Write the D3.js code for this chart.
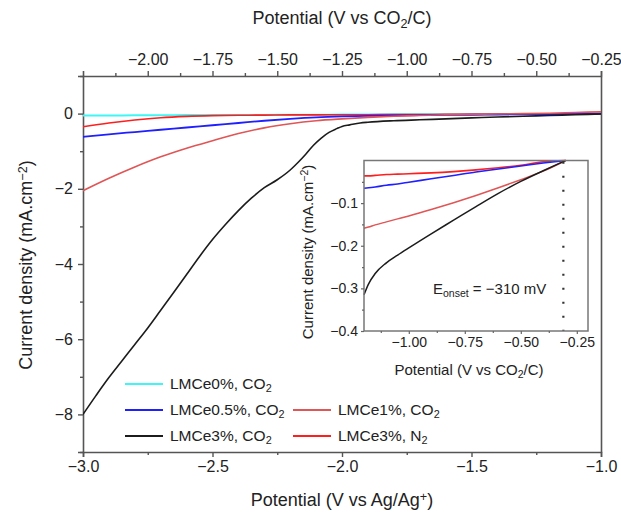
<!DOCTYPE html>
<html>
<head>
<meta charset="utf-8">
<script src="https://cdn.jsdelivr.net/npm/d3@7"></script>
<style>
  html, body { margin: 0; padding: 0; background: #fff; }
  svg { display: block; font-family: "Liberation Sans", Arial, Helvetica, sans-serif; }
  text { fill: #222; }
</style>
</head>
<body>
<svg id="chart" width="621" height="512"></svg>
<script>
// ---- Main panel: linear sweep voltammetry (V vs Ag/Ag+) ----
const mainPotential = [-3.0,-2.9,-2.8,-2.7,-2.6,-2.5,-2.4,-2.3,-2.2,-2.1,-2.0,-1.9,-1.8,-1.7,-1.6,-1.5,-1.4,-1.3,-1.2,-1.1,-1.0];
const lmce0CO2   = [-0.05,-0.05,-0.045,-0.045,-0.04,-0.04,-0.035,-0.035,-0.03,-0.03,-0.025,-0.025,-0.02,-0.02,-0.02,-0.015,-0.015,-0.01,-0.01,-0.01,-0.005];
const lmce05CO2  = [-0.62,-0.55,-0.49,-0.43,-0.37,-0.31,-0.25,-0.19,-0.14,-0.10,-0.075,-0.06,-0.05,-0.04,-0.035,-0.03,-0.025,-0.02,-0.015,-0.01,0];
const lmce1CO2   = [-2.05,-1.72,-1.42,-1.15,-0.92,-0.72,-0.53,-0.38,-0.27,-0.19,-0.14,-0.10,-0.07,-0.05,-0.03,-0.02,-0.01,0,0.01,0.03,0.05];
const lmce3N2    = [-0.35,-0.25,-0.17,-0.11,-0.075,-0.055,-0.045,-0.04,-0.035,-0.035,-0.03,-0.03,-0.025,-0.025,-0.02,-0.02,-0.015,-0.01,-0.01,-0.005,0];

const lmce3Potential = [-3.0,-2.95,-2.9,-2.85,-2.8,-2.75,-2.7,-2.65,-2.6,-2.55,-2.5,-2.45,-2.4,-2.35,-2.3,-2.25,-2.2,-2.17,-2.14,-2.11,-2.08,-2.05,-2.02,-2.0,-1.97,-1.93,-1.9,-1.8,-1.7,-1.6,-1.5,-1.4,-1.3,-1.2,-1.1,-1.0];
const lmce3CO2       = [-8.0,-7.5,-7.02,-6.58,-6.14,-5.7,-5.23,-4.76,-4.28,-3.8,-3.35,-2.95,-2.58,-2.25,-1.97,-1.76,-1.5,-1.3,-1.08,-0.84,-0.65,-0.5,-0.4,-0.34,-0.3,-0.25,-0.23,-0.19,-0.165,-0.14,-0.115,-0.09,-0.07,-0.05,-0.03,-0.01];

// ---- Inset: onset region (V vs CO2/C) ----
const insetPotential = [-1.2,-1.18,-1.15,-1.1,-1.05,-1.0,-0.9,-0.8,-0.7,-0.6,-0.5,-0.4,-0.3];
const insetLmce05CO2 = [-0.065,-0.064,-0.062,-0.058,-0.055,-0.051,-0.043,-0.035,-0.027,-0.02,-0.013,-0.006,0];
const insetLmce1CO2  = [-0.159,-0.156,-0.151,-0.144,-0.137,-0.13,-0.115,-0.099,-0.082,-0.064,-0.045,-0.025,0];
const insetLmce3CO2  = [-0.315,-0.29,-0.265,-0.24,-0.222,-0.205,-0.172,-0.14,-0.108,-0.077,-0.049,-0.024,0];
const insetLmce3N2   = [-0.036,-0.036,-0.035,-0.033,-0.032,-0.031,-0.029,-0.026,-0.022,-0.017,-0.011,-0.003,0];
const onsetPotential = -0.31; // V vs CO2/C

// ---- Axis ticks ----
const bottomTicks = [-3.0,-2.5,-2.0,-1.5,-1.0];
const bottomMinor = [-2.75,-2.25,-1.75,-1.25];
const topTicks = [-2.00,-1.75,-1.50,-1.25,-1.00,-0.75,-0.50,-0.25];
const topMinor = [-2.125,-1.875,-1.625,-1.375,-1.125,-0.875,-0.625,-0.375];
const leftTicks = [0,-2,-4,-6,-8];
const leftMinor = [1,-1,-3,-5,-7,-9];
const insetXTicks = [-1.00,-0.75,-0.50,-0.25];
const insetXMinor = [-1.125,-0.875,-0.625,-0.375];
const insetYTicks = [-0.1,-0.2,-0.3,-0.4];
const insetYMinor = [-0.05,-0.15,-0.25,-0.35];

const seriesNames = ["LMCe0%, CO", "LMCe0.5%, CO", "LMCe1%, CO", "LMCe3%, CO", "LMCe3%, N"];
const seriesColors = ["#3ff6f6", "#1f1fff", "#e05555", "#1c1c1c", "#ff1e1e"];

const svg = d3.select("#chart");
const axisColor = "#555";
const minus = s => s.replace("-", "\u2212");

// main scales
const M = { left: 83, right: 601, top: 76, bottom: 452 };
const x = d3.scaleLinear().domain([-3.0, -1.0]).range([M.left, M.right]);
const xTop = d3.scaleLinear().domain([-2.25, -0.25]).range([M.left, M.right]);
const y = d3.scaleLinear().domain([-9, 1]).range([M.bottom, M.top]);

function styleAxis(g) {
  g.select(".domain").attr("stroke", axisColor).attr("stroke-width", 1.6);
  g.selectAll(".tick line").attr("stroke", axisColor).attr("stroke-width", 1.4);
  g.selectAll(".tick text").attr("fill", "#222");
}

// minor ticks (no labels)
function minorAxis(gen, vals, size) {
  return gen.tickValues(vals).tickSize(size).tickFormat("");
}

const fmt1 = d => minus(d3.format(".1f")(d));
const fmt2 = d => minus(d3.format(".2f")(d));
const fmt0 = d => minus(d3.format("d")(d));
const tickFont = g => g.selectAll("text").attr("font-size", 16).attr("font-family", "Liberation Sans");

// bottom axis
svg.append("g").attr("transform", `translate(0,${M.bottom})`)
  .call(d3.axisBottom(x).tickValues(bottomTicks).tickSize(5).tickPadding(4).tickFormat(fmt1))
  .call(styleAxis).call(tickFont);
svg.append("g").attr("transform", `translate(0,${M.bottom})`)
  .call(minorAxis(d3.axisBottom(x), bottomMinor, 3)).call(styleAxis)
  .call(g => g.select(".domain").remove());

// top axis
svg.append("g").attr("transform", `translate(0,${M.top})`)
  .call(d3.axisTop(xTop).tickValues(topTicks).tickSize(5).tickPadding(6).tickFormat(fmt2))
  .call(styleAxis).call(tickFont);
svg.append("g").attr("transform", `translate(0,${M.top})`)
  .call(minorAxis(d3.axisTop(xTop), topMinor, 3)).call(styleAxis)
  .call(g => g.select(".domain").remove());

// left axis
svg.append("g").attr("transform", `translate(${M.left},0)`)
  .call(d3.axisLeft(y).tickValues(leftTicks).tickSize(5).tickPadding(5).tickFormat(fmt0))
  .call(styleAxis).call(tickFont);
svg.append("g").attr("transform", `translate(${M.left},0)`)
  .call(minorAxis(d3.axisLeft(y), leftMinor, 3)).call(styleAxis)
  .call(g => g.select(".domain").remove());

// right frame
svg.append("g").attr("transform", `translate(${M.right},0)`)
  .call(d3.axisRight(y).tickValues([]).tickSizeOuter(0)).call(styleAxis);

// text with sub/superscripts
function labelWithScript(sel, parts) {
  parts.forEach(p => {
    const t = sel.append("tspan").text(p.t);
    if (p.sub) t.attr("baseline-shift", "-28%").attr("font-size", "70%");
    if (p.sup) t.attr("baseline-shift", "42%").attr("font-size", "70%");
  });
  return sel;
}

labelWithScript(svg.append("text").attr("x", 342).attr("y", 24).attr("text-anchor", "middle").attr("font-size", 18),
  [{t: "Potential (V vs CO"}, {t: "2", sub: true}, {t: "/C)"}]);
labelWithScript(svg.append("text").attr("x", 342).attr("y", 506).attr("text-anchor", "middle").attr("font-size", 18),
  [{t: "Potential (V vs Ag/Ag"}, {t: "+", sup: true}, {t: ")"}]);
labelWithScript(svg.append("text").attr("transform", "translate(32,265) rotate(-90)").attr("text-anchor", "middle").attr("font-size", 18),
  [{t: "Current density (mA.cm"}, {t: "\u22122", sup: true}, {t: ")"}]);

// curves
svg.append("clipPath").attr("id", "clipMain").append("rect")
  .attr("x", M.left).attr("y", M.top).attr("width", M.right - M.left).attr("height", M.bottom - M.top);

const line = d3.line().x(d => x(d[0])).y(d => y(d[1])).curve(d3.curveMonotoneX);
const mainSeries = [
  { xs: mainPotential, ys: lmce0CO2, c: seriesColors[0], w: 2 },
  { xs: mainPotential, ys: lmce3N2, c: seriesColors[4], w: 1.6 },
  { xs: mainPotential, ys: lmce05CO2, c: seriesColors[1], w: 1.8 },
  { xs: mainPotential, ys: lmce1CO2, c: seriesColors[2], w: 1.6 },
  { xs: lmce3Potential, ys: lmce3CO2, c: seriesColors[3], w: 1.6 },
];
const gMain = svg.append("g").attr("clip-path", "url(#clipMain)");
mainSeries.forEach(s => {
  gMain.append("path").datum(s.xs.map((v, i) => [v, s.ys[i]]))
    .attr("d", line).attr("fill", "none").attr("stroke", s.c).attr("stroke-width", s.w)
    .attr("stroke-linejoin", "round");
});

// legend
const legendItems = [
  { name: seriesNames[0], sub: "2", c: seriesColors[0], col: 0, row: 0 },
  { name: seriesNames[1], sub: "2", c: seriesColors[1], col: 0, row: 1 },
  { name: seriesNames[2], sub: "2", c: seriesColors[2], col: 1, row: 1 },
  { name: seriesNames[3], sub: "2", c: seriesColors[3], col: 0, row: 2 },
  { name: seriesNames[4], sub: "2", c: seriesColors[4], col: 1, row: 2 },
];
const legend = svg.append("g");
legendItems.forEach(it => {
  const lx = it.col === 0 ? 125 : 293;
  const ly = 384 + it.row * 26;
  legend.append("line").attr("x1", lx).attr("x2", lx + 38).attr("y1", ly).attr("y2", ly)
    .attr("stroke", it.c).attr("stroke-width", 2.2);
  labelWithScript(legend.append("text").attr("x", lx + 45).attr("y", ly + 5).attr("font-size", 15.5),
    [{t: it.name}, {t: it.sub, sub: true}]);
});

// ---- Inset ----
const I = { left: 364, right: 588, top: 160.5, bottom: 331 };
const ix = d3.scaleLinear().domain([-1.2, -0.2]).range([I.left, I.right]);
const iy = d3.scaleLinear().domain([-0.4, 0]).range([I.bottom, I.top]);
const inset = svg.append("g");
inset.append("rect").attr("x", I.left).attr("y", I.top).attr("width", I.right - I.left).attr("height", I.bottom - I.top)
  .attr("fill", "#fff");

const iline = d3.line().x(d => ix(d[0])).y(d => iy(d[1])).curve(d3.curveMonotoneX);
const insetSeries = [
  { ys: insetLmce3N2, c: seriesColors[4], w: 1.6 },
  { ys: insetLmce05CO2, c: seriesColors[1], w: 1.6 },
  { ys: insetLmce1CO2, c: seriesColors[2], w: 1.5 },
  { ys: insetLmce3CO2, c: seriesColors[3], w: 1.5 },
];
insetSeries.forEach(s => {
  inset.append("path").datum(insetPotential.map((v, i) => [v, s.ys[i]]))
    .attr("d", iline).attr("fill", "none").attr("stroke", s.c).attr("stroke-width", s.w);
});

// onset marker
inset.append("line").attr("x1", ix(onsetPotential)).attr("x2", ix(onsetPotential))
  .attr("y1", iy(-0.003)).attr("y2", iy(-0.4))
  .attr("stroke", "#333").attr("stroke-width", 2.2).attr("stroke-dasharray", "2,12");

inset.append("rect").attr("x", I.left).attr("y", I.top).attr("width", I.right - I.left).attr("height", I.bottom - I.top)
  .attr("fill", "none").attr("stroke", "#777").attr("stroke-width", 1.5);

function styleInsetAxis(g) {
  g.select(".domain").remove();
  g.selectAll(".tick line").attr("stroke", "#666").attr("stroke-width", 1.2);
  g.selectAll(".tick text").attr("fill", "#222").attr("font-size", 14).attr("font-family", "Liberation Sans");
}
inset.append("g").attr("transform", `translate(0,${I.bottom})`)
  .call(d3.axisBottom(ix).tickValues(insetXTicks).tickSize(3).tickPadding(3).tickFormat(fmt2)).call(styleInsetAxis);
inset.append("g").attr("transform", `translate(0,${I.bottom})`)
  .call(minorAxis(d3.axisBottom(ix), insetXMinor, 2)).call(styleInsetAxis);
inset.append("g").attr("transform", `translate(${I.left},0)`)
  .call(d3.axisLeft(iy).tickValues(insetYTicks).tickSize(3).tickPadding(3).tickFormat(fmt1)).call(styleInsetAxis);
inset.append("g").attr("transform", `translate(${I.left},0)`)
  .call(minorAxis(d3.axisLeft(iy), insetYMinor, 2)).call(styleInsetAxis);

labelWithScript(inset.append("text").attr("x", 469).attr("y", 375).attr("text-anchor", "middle").attr("font-size", 15),
  [{t: "Potential (V vs CO"}, {t: "2", sub: true}, {t: "/C)"}]);
labelWithScript(inset.append("text").attr("transform", "translate(313,252) rotate(-90)").attr("text-anchor", "middle").attr("font-size", 15),
  [{t: "Current density (mA.cm"}, {t: "\u22122", sup: true}, {t: ")"}]);

labelWithScript(inset.append("text").attr("x", 433).attr("y", 294).attr("font-size", 15),
  [{t: "E"}, {t: "onset", sub: true}, {t: " = \u2212310 mV"}]);
</script>
</body>
</html>
